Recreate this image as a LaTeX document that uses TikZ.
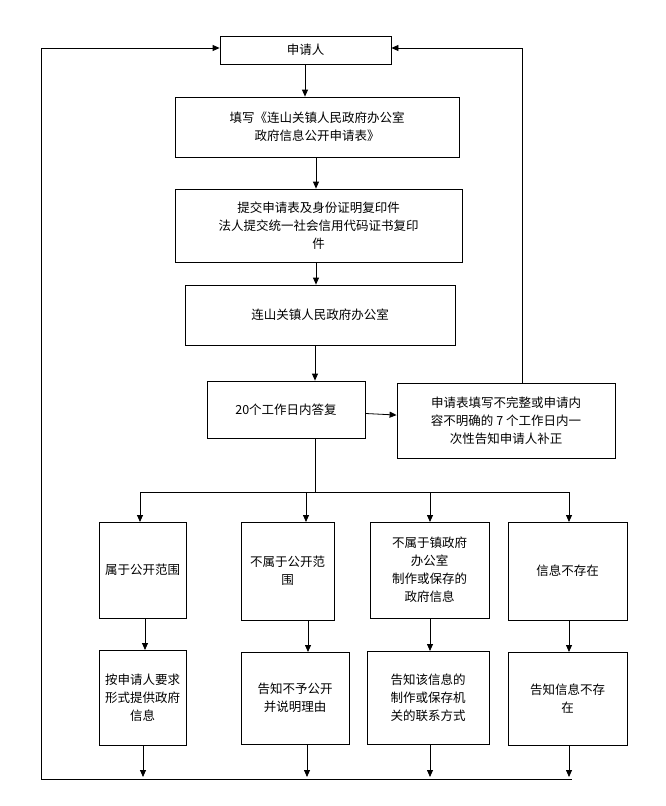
\documentclass[tikz,border=0pt]{standalone}
\usepackage{fontspec}
\setmainfont{Noto Sans CJK SC}
\usetikzlibrary{arrows.meta}
\begin{document}
\begin{tikzpicture}[x=1pt,y=-1pt,
  box/.style={draw,thick,align=center,font=\fontsize{12.5}{18}\selectfont,inner sep=0pt},
  ar/.style={-{Triangle[length=7pt,width=6pt]},thick},
  ln/.style={thick}]
\useasboundingbox (0,0) rectangle (665,806);
\node[box,minimum width=171,minimum height=28] (a) at (305.5,50) {申请人};
\node[box,minimum width=284,minimum height=60] (b) at (317,127) {填写《连山关镇人民政府办公室\\政府信息公开申请表》};
\node[box,minimum width=287,minimum height=73] (c) at (318.5,225.5) {提交申请表及身份证明复印件\\法人提交统一社会信用代码证书复印\\件};
\node[box,minimum width=270,minimum height=60] (d) at (320,315) {连山关镇人民政府办公室};
\node[box,minimum width=158,minimum height=57] (e) at (286,409.5) {20个工作日内答复};
\node[box,minimum width=218,minimum height=75] (f) at (506,420.5) {申请表填写不完整或申请内\\容不明确的 7 个工作日内一\\次性告知申请人补正};
\node[box,minimum width=87,minimum height=96] (g1) at (142.5,570) {属于公开范围};
\node[box,minimum width=93,minimum height=98] (g2) at (287.5,571) {不属于公开范\\围};
\node[box,minimum width=119,minimum height=96] (g3) at (429.5,570) {不属于镇政府\\办公室\\制作或保存的\\政府信息};
\node[box,minimum width=119,minimum height=98] (g4) at (567.5,571) {信息不存在};
\node[box,minimum width=87,minimum height=95] (h1) at (142.5,697.5) {按申请人要求\\形式提供政府\\信息};
\node[box,minimum width=108,minimum height=92] (h2) at (295,698) {告知不予公开\\并说明理由};
\node[box,minimum width=122,minimum height=93] (h3) at (428,697.5) {告知该信息的\\制作或保存机\\关的联系方式};
\node[box,minimum width=119,minimum height=93] (h4) at (567.5,698.5) {告知信息不存\\在};
\draw[ar] (a.south -| 305,0) -- (b.north -| 305,0);
\draw[ar] (b.south -| 316,0) -- (c.north -| 316,0);
\draw[ar] (c.south -| 316,0) -- (d.north -| 316,0);
\draw[ar] (d.south -| 315,0) -- (e.north -| 315,0);
\draw[ar] (e) -- (f);
\draw[ar] (f.north -| 522,0) -- (522,48) -- (a.east |- 0,48);
\coordinate (br) at (315,492);
\draw[ln] (e.south -| br) -- (br);
\draw[ln] (140,492) -- (569,492);
\draw[ar] (140,492) -- (140,522);
\draw[ar] (306,492) -- (306,522);
\draw[ar] (430,492) -- (430,522);
\draw[ar] (569,492) -- (569,522);
\draw[ar] (145,618) -- (145,650);
\draw[ar] (308,620) -- (308,652);
\draw[ar] (430,618) -- (430,651);
\draw[ar] (569,620) -- (569,652);
\coordinate (bl) at (41,779);
\draw[ar] (143,745) -- (143,777);
\draw[ar] (307,744) -- (307,777);
\draw[ar] (430,744) -- (430,777);
\draw[ar] (569,745) -- (569,777);
\draw[ln] (bl) -- (572,779);
\draw[ar] (bl) -- (41,48) -- (a.west |- 0,48);
\end{tikzpicture}
\end{document}
